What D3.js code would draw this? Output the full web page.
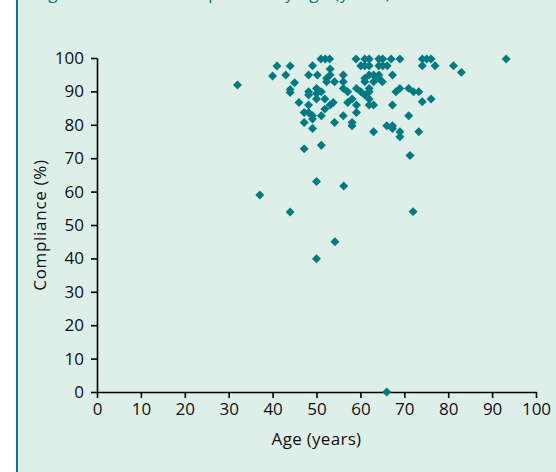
<!DOCTYPE html>
<html>
<head>
<meta charset="utf-8">
<script src="https://cdn.jsdelivr.net/npm/d3@7"></script>
<style>
	body { margin: 0; background: #fff; }
	.chart-text { font-family: 'Open Sans', sans-serif; fill: #111; }
</style>
</head>
<body>
<div id="chart"></div>
<script>
'use strict';

// ages (years)
var ages = [
	32, 40, 41, 43, 44, 45, 44, 44, 46,
	51, 52, 53, 59, 61, 62, 64.2, 65.1, 67, 69, 74.1, 75.1, 76.1, 93.2,
	49.1, 60.1, 61, 62, 64.2, 65.1, 66.1, 74.1, 77, 81.2,
	53.1, 83,
	48.2, 50.2, 53.1, 56.1, 62, 63, 64.2, 67.3,
	52.3, 61, 64.2,
	52.3, 54.1, 56.1, 61, 63, 65,
	50, 56.1, 59.1, 62, 69, 71,
	48.2, 51.1, 57.1, 60.1, 62, 68.1, 72.1, 73.3,
	48.2, 61, 50,
	50, 51.9, 58.1, 62, 76.1, 74.1,
	53.8, 57.1,
	48.2, 53.1, 59.1, 62, 63, 67.3,
	51.9,
	47.2, 48.2, 59.1,
	49.1, 51.1, 56.1, 71,
	49.1,
	47.2, 54.1, 58.1,
	58.1, 66, 67.3,
	49.1, 67.3,
	63, 69, 73.3,
	69,
	47.2, 51.1, 71.3,
	50, 56.2, 37.1, 44, 72, 54.2, 50, 66
];

// compliance (%)
var compliance = [
	91.9, 94.6, 97.6, 94.9, 97.6, 92.6, 90.6, 89.7, 86.7,
	99.7, 99.7, 99.7, 99.7, 99.7, 99.7, 99.7, 99.7, 99.7, 99.7, 99.7, 99.7, 99.7, 99.7,
	97.7, 97.7, 97.7, 97.7, 97.7, 97.7, 97.7, 97.7, 97.7, 97.7,
	96.7, 95.7,
	94.9, 94.9, 94.9, 94.9, 94.9, 94.9, 94.9, 94.9,
	93.9, 93.9, 93.9,
	92.9, 92.9, 92.9, 92.9, 92.9, 92.9,
	90.9, 90.9, 90.9, 90.9, 90.9, 90.9,
	89.9, 89.9, 89.9, 89.9, 89.9, 89.9, 89.9, 89.9,
	88.9, 88.9, 89.4,
	87.7, 87.7, 87.7, 87.7, 87.7, 86.9,
	86.7, 86.7,
	85.9, 85.9, 85.9, 85.9, 85.9, 85.9,
	84.7,
	83.7, 83.7, 83.7,
	82.7, 82.7, 82.7, 82.7,
	81.7,
	80.7, 80.7, 80.7,
	79.7, 79.7, 79.7,
	78.9, 78.9,
	77.9, 77.9, 77.9,
	76.4,
	72.8, 73.9, 70.8,
	63, 61.7, 59, 53.9, 54, 45, 39.9, 0
];

var xTicks = [0, 10, 20, 30, 40, 50, 60, 70, 80, 90, 100];
var yTicks = [0, 10, 20, 30, 40, 50, 60, 70, 80, 90, 100];

var titleText = 'Figure 2 Patient compliance by age (years)';
var xLabel = 'Age (years)';
var yLabel = 'Compliance (%)';

var width = 556,
	height = 472;
var teal = '#007a80';

var points = ages.map(function (a, i) {
	return { age: a, comp: compliance[i] };
});

var svg = d3.select('#chart')
	.append('svg')
	.attr('width', width)
	.attr('height', height);

// panel background + left rule
svg.append('rect')
	.attr('x', 17)
	.attr('y', 0)
	.attr('width', width - 17)
	.attr('height', height)
	.attr('fill', '#deeee8');

svg.append('rect')
	.attr('x', 16)
	.attr('y', 0)
	.attr('width', 2)
	.attr('height', height)
	.attr('fill', '#0a7d8c');

// title runs off the top of the crop, as in the reference: only descenders show
svg.append('text')
	.attr('x', 34)
	.attr('y', -1)
	.attr('fill', teal)
	.style('font-family', 'Open Sans, sans-serif')
	.style('font-size', '17px')
	.style('letter-spacing', '0.6px')
	.text(titleText);

var x = d3.scaleLinear().domain([0, 100]).range([97, 536]);
var y = d3.scaleLinear().domain([0, 100]).range([392, 58]);

var xAxis = svg.append('g')
	.attr('transform', 'translate(0,' + y(0) + ')')
	.call(d3.axisBottom(x)
		.tickValues(xTicks)
		.tickSize(6)
		.tickPadding(5)
		.tickSizeOuter(0));

var yAxis = svg.append('g')
	.attr('transform', 'translate(' + x(0) + ',0)')
	.call(d3.axisLeft(y)
		.tickValues(yTicks)
		.tickSize(6)
		.tickPadding(7)
		.tickSizeOuter(0));

[xAxis, yAxis].forEach(function (ax) {
	ax.select('.domain')
		.attr('stroke', '#000')
		.attr('stroke-width', 1.6);
	ax.selectAll('.tick line')
		.attr('stroke', '#000')
		.attr('stroke-width', 1.6);
	ax.selectAll('.tick text')
		.attr('class', 'chart-text')
		.style('font-size', '17px')
		.attr('fill', '#111');
});

svg.append('text')
	.attr('class', 'chart-text')
	.attr('x', x(50))
	.attr('y', 445)
	.attr('text-anchor', 'middle')
	.style('font-size', '17px')
	.style('letter-spacing', '0.3px')
	.text(xLabel);

svg.append('text')
	.attr('class', 'chart-text')
	.attr('transform', 'translate(46,' + y(50) + ') rotate(-90)')
	.attr('text-anchor', 'middle')
	.style('font-size', '17px')
	.style('letter-spacing', '0.7px')
	.text(yLabel);

var diamond = d3.symbol().type(d3.symbolSquare).size(40);

svg.append('g')
	.selectAll('path')
	.data(points)
	.enter()
	.append('path')
	.attr('d', diamond)
	.attr('transform', function (d) {
		return 'translate(' + x(d.age) + ',' + y(d.comp) + ') rotate(45)';
	})
	.attr('fill', teal);
</script>
</body>
</html>
